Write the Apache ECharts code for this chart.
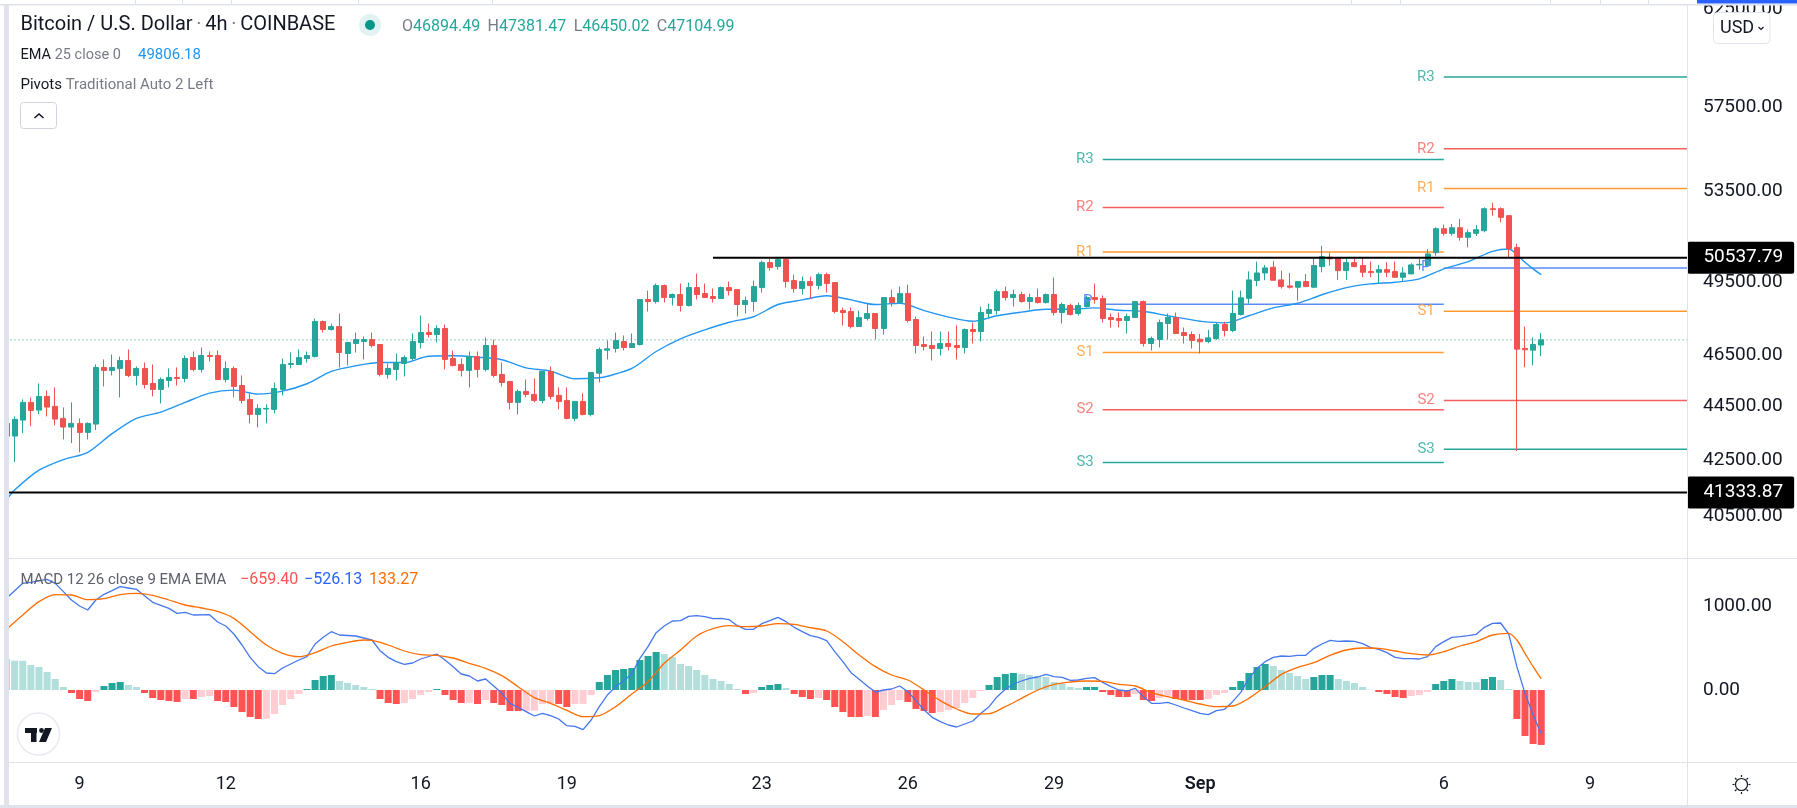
<!DOCTYPE html>
<html>
<head>
<meta charset="utf-8">
<title>Bitcoin / U.S. Dollar</title>
<script src="https://cdn.jsdelivr.net/npm/echarts@6/dist/echarts.min.js"></script>
<style>
html, body { margin: 0; padding: 0; background: #fff; }
#main { width: 1797px; height: 808px; }
</style>
</head>
<body>
<div id="main"></div>
<script>
var FONT = 'Roboto, sans-serif';

// candles, bar 0 is the one cut off by the left edge
var opens = [43853,
43380,43977,44648,44355,44878,44495,44041,43715,43853,43517,
43827,46004,45886,45965,46280,45690,45965,45378,45147,45495,
45612,45573,46398,45925,46478,46478,45534,45965,45300,44762,
44191,44395,44381,45147,46122,46122,46359,46438,47849,47523,
47645,46557,46957,47037,47118,46917,45730,45925,46161,46359,
46997,47400,47320,47564,46359,46122,45886,46438,45925,46877,
45730,45456,44648,45070,44955,44724,45847,44916,44724,44041,
44686,44191,45780,46690,46757,47037,46797,46917,48758,48674,
49345,48842,48968,48508,49260,49010,48884,48800,49260,49176,
48550,48674,49260,50325,50153,50453,49556,49218,49514,49345,
49810,49472,48301,48260,47645,47972,48178,47564,48842,48632,
49010,47930,46917,46877,46757,46957,46877,46797,47523,47441,
48178,48301,49092,48842,48968,48674,48842,48632,48968,48219,
48508,48178,48467,48842,48800,48014,47972,47890,48014,48674,
46957,47118,47767,48014,47400,47320,47130,47037,47158,47726,
47482,48137,48810,49556,49880,50125,49585,49330,49275,49514,
49275,50153,50555,50540,49981,50325,50197,49938,49908,50024,
49938,49697,49838,50225,50197,50755,51807,51600,51851,51425,
51600,51719,52700,52700,52388,50974,46757,46690,46894.49];
var closes = [43377,
44005,44648,44343,44877,44470,44015,43715,43853,43517,43853,
46004,45886,46004,46280,45690,45965,45340,45147,45534,45612,
45573,46359,45925,46478,46438,45534,45965,45262,44724,44191,
44419,44419,45185,46122,46161,46398,46478,47849,47523,47645,
46597,46997,47118,47118,46877,45730,45965,46200,46398,47037,
47400,47320,47564,46320,46082,45886,46438,45925,46877,45690,
45417,44648,45070,44955,44724,45847,44878,44686,44041,44686,
44191,45808,46717,46745,47078,46797,46957,48758,48674,49345,
48842,48968,48508,49260,48968,48842,48800,49260,49134,48550,
48716,49303,50325,50110,50453,49514,49218,49514,49345,49810,
49430,48260,48219,47645,48014,48178,47564,48842,48632,49010,
47890,46877,46837,46757,46957,46837,46797,47523,47441,48219,
48342,49092,48842,48968,48674,48842,48632,48968,48219,48550,
48137,48508,48842,48758,47972,47930,47890,48055,48674,46957,
47158,47808,48014,47360,47280,47078,47025,47186,47726,47482,
48178,48830,49585,49880,50097,49570,49303,49275,49514,49303,
50197,50583,50485,49981,50325,50153,49908,49895,50024,49908,
49697,49880,50225,50250,50700,51807,51600,51851,51425,51631,
51763,52700,52670,52312,50930,46730,46705,46917,47104.99];
var lows = [43300,
42425,43490,43752,44202,44115,43778,43257,43120,42780,43257,
43602,45262,45690,44840,45625,45300,45185,44878,44610,45224,
45300,45417,45847,45808,46240,45534,45417,44840,44610,43853,
43703,43853,44229,44916,45965,46122,46200,46398,47400,47482,
46004,46082,46597,46320,46797,45651,45573,45495,45651,46280,
46757,47200,46997,45925,46043,45651,45224,45612,45847,45612,
45262,44381,44191,44840,44648,44610,44762,44381,44004,43928,
44153,44115,45417,46320,46597,46677,46797,46877,48260,48590,
48632,48508,48260,48467,48758,48842,48632,48800,48926,48055,
48178,48260,49050,49981,50024,49260,49050,48968,48800,49176,
49050,48178,47686,47564,47645,47890,47118,47320,48467,48590,
47808,46557,46677,46280,46478,46677,46320,46557,46957,47037,
47972,48137,48716,48467,48632,48342,48590,48590,48095,47767,
48095,48095,48425,48590,47808,47604,47604,47360,48014,46837,
46677,46797,47118,47360,46957,46757,46557,46970,47105,47240,
47415,48095,48590,49315,49570,49556,49218,49218,48716,49275,
49247,49908,50197,49585,49585,50125,49697,49697,49415,49697,
49670,49514,49838,50010,50125,50625,51500,51500,51279,50985,
51485,51645,52388,52088,50527,42826,46014,46082,46450.02];
var highs = [43860,
44115,44762,44839,45378,45108,45224,44457,44648,44041,43891,
46122,46320,46518,46438,46717,46043,46200,46122,45612,45965,
46004,46478,46637,46797,46637,46677,46240,46043,45690,44993,
44572,44572,45417,46359,46597,46717,46637,47972,47890,47767,
48178,46997,47400,47240,47400,46917,46161,46557,46478,47360,
48095,47767,47686,47726,46677,46359,46637,46637,47200,47118,
46200,45456,45147,45534,45573,45847,46043,45224,45224,44686,
44993,45808,46797,47078,47400,47280,47360,48758,49134,49430,
49387,49010,49430,49472,49852,49430,49218,49303,49514,49176,
48884,49556,50410,50497,50540,50540,49810,49725,49725,49895,
49895,49472,48425,48425,48301,48590,48178,48842,49176,49303,
49387,48055,47240,47441,47441,47441,47686,47564,47808,48467,
48590,49176,49303,49176,49092,49010,49218,49010,49683,48632,
48590,48632,48926,49430,48926,48178,48219,48178,48674,48716,
47240,47930,48178,48219,47604,47441,47347,47510,47795,47835,
49134,49134,49950,50367,50225,50397,49981,49880,49514,49838,
50485,51048,50745,50555,50555,50485,50555,50367,50225,50340,
50367,50125,50295,50485,50915,51866,51985,52015,52238,51763,
51970,52760,52970,52760,52388,51145,47645,47200,47381.47];

// EMA 25, [bar, value]
var emaPoints = [[0,41070],[1,41420],[4,42130],[7,42515],[10,42780],[13,43470],[16,44041],[19,44280],[22,44648],[25,45005],
[28,45120],[31,44965],[34,45080],[37,45366],[40,45847],[43,46070],[46,46200],[49,46200],[52,46450],[55,46465],
[58,46410],[61,46310],[64,45990],[67,45860],[70,45560],[73,45600],[74,45660],[77,45965],[80,46637],[83,47145],
[86,47510],[89,47820],[92,48045],[95,48550],[98,48745],[101,48915],[104,48745],[107,48550],[110,48605],[113,48300],
[116,48030],[119,47860],[122,48085],[125,48235],[128,48355],[131,48355],[134,48410],[137,48315],[140,48270],[143,48085],
[146,47915],[147,47860],[150,47795],[153,48085],[156,48410],[159,48605],[162,48960],[165,49260],[168,49415],[171,49485],
[174,49630],[177,50055],[180,50367],[183,50810],[185,50915],[186,50670],[187,50340],[188,50055],[189,49806.18]];

// MACD histogram, one value per bar
var macdHist = [372,352,350,300,276,216,132,36,-36,-108,
-132,-24,48,84,96,60,36,-36,-96,-120,
-132,-144,-108,-108,-84,-72,-132,-144,-204,-264,
-324,-348,-346,-288,-180,-108,-48,12,120,168,
180,108,84,60,36,12,-108,-156,-168,-156,
-108,-60,-24,12,-60,-120,-156,-154,-168,-120,
-156,-180,-252,-252,-250,-248,-168,-166,-168,-204,
-168,-166,-60,96,180,240,252,264,360,408,
456,432,396,312,288,240,180,132,108,72,
12,-48,-36,36,60,72,24,-48,-84,-108,
-96,-120,-204,-264,-324,-324,-312,-324,-240,-180,
-120,-144,-228,-252,-276,-264,-240,-216,-156,-96,
-12,60,156,192,204,192,180,168,156,96,
72,36,24,36,36,-24,-60,-84,-84,-48,
-120,-132,-96,-72,-108,-120,-120,-120,-108,-60,
-36,36,108,204,276,312,288,240,204,168,
132,156,180,180,132,108,84,36,4,-24,
-48,-84,-96,-72,-60,-24,72,108,132,108,
96,94,132,156,120,12,-348,-552,-648,-659.4];

// MACD line, [bar, value]
var macdLine = [[0,1100],[1,1192],[2,1280],[3,1292],[4,1312],[5,1328],[6,1280],[7,1180],[8,1080],[9,1008],[10,960],[11,1080],
[12,1148],[13,1192],[14,1240],[15,1224],[16,1208],[18,1052],[20,980],[21,920],[22,932],[23,900],[25,904],[26,816],
[27,768],[28,672],[29,540],[30,392],[31,280],[32,204],[33,196],[34,264],[36,360],[37,400],[38,552],[39,632],
[40,700],[41,660],[43,648],[45,600],[46,472],[47,392],[48,340],[49,308],[50,324],[51,372],[53,432],[54,360],
[55,280],[56,192],[57,168],[58,108],[59,132],[60,48],[61,-40],[62,-160],[63,-208],[64,-260],[65,-312],[66,-280],
[67,-308],[68,-348],[69,-428],[70,-436],[71,-476],[72,-360],[73,-200],[74,-60],[75,40],[76,112],[77,192],[78,380],
[79,520],[80,688],[81,768],[82,828],[83,832],[84,884],[85,892],[86,880],[87,856],[88,860],[89,844],[90,772],
[91,728],[92,728],[93,796],[94,832],[95,872],[96,820],[97,752],[98,700],[99,652],[100,632],[101,592],[102,460],
[103,340],[104,208],[105,128],[106,48],[107,-24],[108,0],[109,12],[110,48],[111,-20],[112,-128],[113,-240],[114,-328],
[115,-380],[116,-420],[117,-444],[118,-408],[119,-372],[120,-280],[121,-200],[122,-80],[123,8],[124,72],[125,108],[126,140],
[127,156],[128,188],[129,160],[130,152],[131,116],[132,120],[133,140],[134,148],[135,92],[136,40],[137,0],[138,-12],
[139,20],[140,-80],[141,-160],[142,-160],[143,-148],[144,-180],[145,-216],[146,-248],[147,-280],[148,-296],[149,-248],[150,-232],
[151,-140],[152,-28],[153,140],[154,260],[155,340],[156,392],[157,408],[158,404],[159,416],[160,416],[161,500],[162,552],
[163,596],[164,584],[165,588],[166,584],[167,556],[168,508],[169,488],[170,448],[171,392],[172,376],[173,376],[174,372],
[175,400],[176,520],[177,580],[178,632],[179,640],[180,652],[181,668],[182,752],[183,800],[184,804],[185,672],[186,280],
[187,-40],[188,-300],[189,-526.13]];

// signal line, [bar, value]
var signalLine = [[0,728],[2,900],[4,1060],[6,1144],[8,1140],[10,1084],[12,1096],[14,1144],[16,1160],[18,1136],[20,1080],[22,1020],
[24,984],[26,944],[28,860],[30,700],[32,540],[34,440],[36,400],[38,448],[40,528],[42,572],[44,600],[45,596],
[47,540],[49,468],[51,424],[53,416],[55,384],[57,320],[59,260],[61,172],[63,40],[65,-92],[67,-160],[69,-244],
[71,-320],[73,-308],[75,-200],[77,-48],[79,100],[81,320],[83,480],[85,648],[87,736],[89,772],[91,760],[93,768],
[95,796],[97,788],[99,748],[101,708],[103,580],[105,420],[107,280],[109,180],[111,120],[113,0],[115,-128],[117,-228],
[119,-288],[121,-284],[123,-200],[125,-100],[127,0],[129,68],[131,96],[133,108],[135,104],[137,68],[139,48],[141,-32],
[143,-80],[145,-120],[147,-168],[149,-200],[151,-192],[153,-100],[155,40],[157,188],[159,272],[161,328],[163,416],[165,480],
[167,504],[169,500],[171,468],[173,436],[175,420],[177,460],[179,528],[181,580],[183,660],[185,680],[186,600],[187,440],
[188,280],[189,133.27]];

// pivot levels
var pivotNames = ['R3', 'R2', 'R1', 'P', 'S1', 'S2', 'S3'];
var pivotColors = ['#26a69a', '#f4605c', '#ff9a2e', '#5d8bf4', '#ff9a2e', '#f4605c', '#26a69a'];
var pivotsFirst = [54966, 52760, 50780, 48563, 46597, 44370, 42410];
var pivotsSecond = [58994, 55472, 53624, 50097, 48270, 44724, 42890];
var firstBars = [135, 177];
var secondBars = [177, 207];

// horizontal levels and last close
var levelHigh = 50537.79;
var levelLow = 41333.87;
var levelHighStart = 87;
var lastClose = 47104.99;

// axes
var priceTicks = [40500, 42500, 44500, 46500, 49500, 53500, 57500, 62500];
var macdTicks = [0, 1000];
var tickBars = [9, 27, 51, 69, 93, 111, 129, 147, 177, 195];
var tickTexts = ['9', '12', '16', '19', '23', '26', '29', '{b|Sep}', '6', '9'];

var bars = [];
for (var i = 0; i < 208; i++) bars.push(String(i));

var candleData = opens.map(function (o, i) {
    return [o, closes[i], lows[i], highs[i]];
});

var histData = macdHist.map(function (v, i) {
    var prev = i ? macdHist[i - 1] : v + 1;
    var color;
    if (v >= 0) color = v >= prev ? '#26a69a' : '#b2dfdb';
    else color = v <= prev ? '#ff5252' : '#ffcdd2';
    return { value: v, itemStyle: { color: color } };
});

function pivotSeries(name, from, to, value, color) {
    return {
        type: 'line',
        name: name,
        xAxisIndex: 0,
        yAxisIndex: 0,
        z: 1,
        symbolSize: 0,
        showSymbol: true,
        lineStyle: { color: color, width: 1.5 },
        data: [
            {
                value: [from, value],
                label: {
                    show: name !== 'P',
                    position: 'left',
                    distance: 9,
                    formatter: name,
                    color: color,
                    opacity: 0.8,
                    fontFamily: FONT,
                    fontSize: 15
                }
            },
            { value: [to, value], label: { show: false } }
        ]
    };
}

function levelSeries(from, value) {
    return {
        type: 'line',
        xAxisIndex: 0,
        yAxisIndex: 0,
        z: 4,
        symbol: 'none',
        lineStyle: { color: '#000', width: 2 },
        endLabel: {
            show: true,
            distance: 0,
            formatter: function () { return value.toFixed(2); },
            color: '#fff',
            backgroundColor: '#000',
            padding: [6, 11, 7, 16],
            fontFamily: FONT,
            fontSize: 19,
            borderRadius: 2
        },
        data: [[from, value], [207, value]]
    };
}

var series = [];
pivotNames.forEach(function (name, k) {
    series.push(pivotSeries(name, firstBars[0], firstBars[1], pivotsFirst[k], pivotColors[k]));
    series.push(pivotSeries(name, secondBars[0], secondBars[1], pivotsSecond[k], pivotColors[k]));
});
series.push({
    type: 'line',
    xAxisIndex: 0,
    yAxisIndex: 0,
    z: 2,
    symbol: 'none',
    lineStyle: { color: '#26a69a', width: 1, type: [1, 3] },
    data: [[0, lastClose], [207, lastClose]]
});
series.push({
    type: 'candlestick',
    xAxisIndex: 0,
    yAxisIndex: 0,
    z: 3,
    barWidth: 5.5,
    itemStyle: {
        color: '#26a69a',
        color0: '#ef5350',
        borderColor: '#26a69a',
        borderColor0: '#ef5350',
        borderWidth: 1
    },
    data: candleData
});
series.push({
    type: 'line',
    xAxisIndex: 0,
    yAxisIndex: 0,
    z: 3,
    symbol: 'none',
    smooth: 0.3,
    lineStyle: { color: '#2196f3', width: 1.4 },
    data: emaPoints
});
series.push(levelSeries(levelHighStart, levelHigh));
series.push(levelSeries(0, levelLow));
series.push({
    type: 'bar',
    xAxisIndex: 1,
    yAxisIndex: 1,
    barWidth: 7,
    data: histData
});
series.push({
    type: 'line',
    xAxisIndex: 1,
    yAxisIndex: 1,
    symbol: 'none',
    lineStyle: { color: '#4477ee', width: 1.3 },
    data: macdLine
});
series.push({
    type: 'line',
    xAxisIndex: 1,
    yAxisIndex: 1,
    symbol: 'none',
    smooth: 0.3,
    lineStyle: { color: '#ff6d00', width: 1.3 },
    data: signalLine
});

// page furniture: header text, borders, buttons
function text(x, y, str, rich, size) {
    return {
        type: 'text',
        x: x,
        y: y,
        z: 100,
        style: { text: str, rich: rich, fontFamily: FONT, fontSize: size || 15, verticalAlign: 'middle', fill: '#131722' }
    };
}
function seg(x1, y1, x2, y2, color, width) {
    return {
        type: 'line',
        z: 100,
        shape: { x1: x1, y1: y1, x2: x2, y2: y2 },
        style: { stroke: color || '#e0e3eb', lineWidth: width || 1 }
    };
}
function rect(x, y, w, h, fill, stroke, r) {
    return {
        type: 'rect',
        z: 99,
        shape: { x: x, y: y, width: w, height: h, r: r || 0 },
        style: { fill: fill, stroke: stroke || null, lineWidth: 1 }
    };
}
function richStyle(color, size) {
    return { fill: color, fontFamily: FONT, fontSize: size };
}

var graphics = [
    rect(0, 0, 4, 808, '#fff'),
    rect(4, 0, 5, 808, '#e0e3eb'),
    rect(0, 0, 1797, 4, '#fff'),
    rect(0, 4, 1797, 1.5, '#e0e3eb'),
    rect(0, 805, 1797, 3, '#e0e3eb'),
    rect(1697, 0, 100, 3.5, '#2962ff'),
    seg(9, 558.5, 1797, 558.5),
    seg(9, 762.5, 1797, 762.5),
    seg(1687.5, 5, 1687.5, 805),
    rect(1713.5, 12.5, 56.5, 31, '#fff', '#e0e3eb', 4),
    text(1720, 28, 'USD', null, 18),
    {
        type: 'polyline', z: 100,
        shape: { points: [[1758.5, 27], [1761, 29.5], [1763.5, 27]] },
        style: { stroke: '#131722', fill: null, lineWidth: 1.2 }
    },
    text(20.5, 25, '{t|Bitcoin / U.S. Dollar} {g|·} {t|4h} {g|·} {t|COINBASE}', {
        t: richStyle('#131722', 20), g: richStyle('#787b86', 20)
    }),
    { type: 'circle', z: 100, shape: { cx: 370, cy: 25, r: 11 }, style: { fill: '#e0f2f1' } },
    { type: 'circle', z: 100, shape: { cx: 370, cy: 25, r: 5 }, style: { fill: '#009688' } },
    text(402, 27, '{l|O}{v|46894.49}  {l|H}{v|47381.47}  {l|L}{v|46450.02}  {l|C}{v|47104.99}', {
        l: richStyle('#787b86', 16), v: richStyle('#26a69a', 16)
    }),
    text(20.5, 55, '{d|EMA} {l|25 close 0}', { d: richStyle('#131722', 14.5), l: richStyle('#787b86', 14.5) }),
    text(138, 55, '{b|49806.18}', { b: richStyle('#2196f3', 15) }),
    text(20.5, 85, '{d|Pivots} {l|Traditional Auto 2 Left}', { d: richStyle('#131722', 15), l: richStyle('#787b86', 15) }),
    rect(20.5, 102.5, 36, 26, '#fff', '#d1d4dc', 3),
    {
        type: 'polyline', z: 100,
        shape: { points: [[34.5, 118], [39, 114], [43.5, 118]] },
        style: { stroke: '#131722', fill: null, lineWidth: 1.6 }
    },
    text(20.5, 580, '{l|MACD 12 26 close 9 EMA EMA}', { l: richStyle('#5d606b', 15) }),
    text(240, 580, '{r|−659.40}', { r: richStyle('#ff5252', 16) }),
    text(304, 580, '{b|−526.13}', { b: richStyle('#2962ff', 16) }),
    text(369, 580, '{o|133.27}', { o: richStyle('#ff6d00', 16) }),
    { type: 'circle', z: 100, shape: { cx: 38.5, cy: 734, r: 21 }, style: { fill: '#fff', stroke: '#e8eaef', lineWidth: 1.5 } },
    { type: 'rect', z: 101, shape: { x: 25, y: 728, width: 12, height: 5 }, style: { fill: '#131722' } },
    { type: 'rect', z: 101, shape: { x: 31, y: 733, width: 5.5, height: 9 }, style: { fill: '#131722' } },
    { type: 'circle', z: 101, shape: { cx: 41.5, cy: 730.5, r: 2.4 }, style: { fill: '#131722' } },
    { type: 'polygon', z: 101, shape: { points: [[45, 728], [52, 728], [46, 742], [39, 742]] }, style: { fill: '#131722' } },
    text(1421, 267, '{p|P}', { p: richStyle('#5d8bf4', 15) }),
    text(1083, 301, '{p|P}', { p: richStyle('#5d8bf4', 15) }),
    { type: 'circle', z: 100, shape: { cx: 1741.5, cy: 784.5, r: 6 }, style: { fill: '#fff', stroke: '#131722', lineWidth: 1.2 } },
    seg(1741.5, 775, 1741.5, 777, '#131722', 1.2), seg(1741.5, 792, 1741.5, 794, '#131722', 1.2),
    seg(1732.5, 784.5, 1734.5, 784.5, '#131722', 1.2), seg(1748.5, 784.5, 1750.5, 784.5, '#131722', 1.2),
    seg(1735, 778, 1736.5, 779.5, '#131722', 1.2), seg(1746.5, 789.5, 1748, 791, '#131722', 1.2),
    seg(1748, 778, 1746.5, 779.5, '#131722', 1.2), seg(1736.5, 789.5, 1735, 791, '#131722', 1.2)
];
[135, 182, 231, 358, 492, 1351, 1400, 1550, 1600, 1648].forEach(function (x) {
    graphics.push(seg(x + 0.5, 0, x + 0.5, 4));
});

var chart = echarts.init(document.getElementById('main'));
chart.setOption({
    animation: false,
    backgroundColor: '#fff',
    grid: [
        { left: 2.46, top: 5, width: 1689, height: 553 },
        { left: 2.46, top: 559, width: 1689, height: 203 }
    ],
    xAxis: [
        {
            type: 'category', gridIndex: 0, data: bars,
            axisLine: { show: false }, axisTick: { show: false }, axisLabel: { show: false }, splitLine: { show: false }
        },
        {
            type: 'category', gridIndex: 1, data: bars,
            axisLine: { show: false }, axisTick: { show: false }, splitLine: { show: false },
            axisLabel: {
                show: true,
                margin: 13,
                color: '#131722',
                fontFamily: FONT,
                fontSize: 18,
                interval: function (index) { return tickBars.indexOf(index) >= 0; },
                formatter: function (v, index) { return tickTexts[tickBars.indexOf(index)] || ''; },
                rich: { b: { fontWeight: 600, fontFamily: FONT, fontSize: 18, color: '#131722' } }
            }
        }
    ],
    yAxis: [
        {
            type: 'log', gridIndex: 0, position: 'right', min: 39080, max: 62680, offset: -3.5,
            axisLine: { show: false }, axisTick: { show: false }, splitLine: { show: false }, minorSplitLine: { show: false },
            axisLabel: {
                show: true, margin: 15, color: '#131722', fontFamily: FONT, fontSize: 19, align: 'left',
                customValues: priceTicks,
                formatter: function (v) { return Number(v).toFixed(2); }
            }
        },
        {
            type: 'value', gridIndex: 1, position: 'right', min: -864, max: 1572, offset: -3.5,
            axisLine: { show: false }, axisTick: { show: false }, splitLine: { show: false },
            axisLabel: {
                show: true, margin: 15, color: '#131722', fontFamily: FONT, fontSize: 19, align: 'left',
                customValues: macdTicks,
                formatter: function (v) { return Number(v).toFixed(2); }
            }
        }
    ],
    series: series,
    graphic: { elements: graphics }
});
</script>
</body>
</html>
